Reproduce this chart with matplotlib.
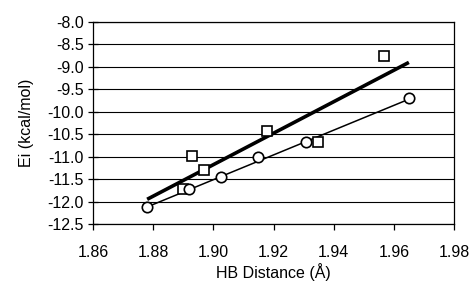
import matplotlib.pyplot as plt
import numpy as np

plt.rcParams['font.family'] = ['Liberation Sans', 'DejaVu Sans']

# squares series
sq_x = [1.8900, 1.8929, 1.8969, 1.9179, 1.9348, 1.9568]
sq_y = [-11.71, -10.99, -11.30, -10.43, -10.68, -8.75]
# circles series
ci_x = [1.8780, 1.8919, 1.9025, 1.9150, 1.9309, 1.9651]
ci_y = [-12.13, -11.73, -11.45, -11.00, -10.67, -9.70]
# trend lines
fit_x = [1.878, 1.965]
sq_fit = [-11.95, -8.90]
ci_fit = [-12.12, -9.72]

xticks = [1.86, 1.88, 1.90, 1.92, 1.94, 1.96, 1.98]
yticks = np.arange(-12.5, -7.99, 0.5)

fig = plt.figure(figsize=(4.72, 2.84), dpi=100)
ax = fig.add_axes([93/472, 1 - 224/284, 361/472, 202/284])

ax.plot(fit_x, sq_fit, color='black', lw=2.6, solid_capstyle='butt', zorder=3)
ax.plot(fit_x, ci_fit, color='black', lw=1.1, zorder=3)
ax.plot(sq_x, sq_y, ls='none', marker='s', ms=7.5, mfc='white', mec='black', mew=1.2, zorder=4)
ax.plot(ci_x, ci_y, ls='none', marker='o', ms=7.5, mfc='white', mec='black', mew=1.2, zorder=4)

ax.set_xlim(1.86, 1.98)
ax.set_ylim(-12.5, -8.0)
ax.set_xticks(xticks)
ax.set_xticklabels([f'{v:.2f}' for v in xticks])
ax.set_yticks(yticks)
ax.set_yticklabels([f'{v:.1f}' for v in yticks])
ax.yaxis.grid(True, color='black', lw=0.8)
ax.set_axisbelow(True)

for s in ax.spines.values():
    s.set_linewidth(0.9)
ax.tick_params(axis='y', direction='inout', length=7, width=0.9, labelsize=11.5, pad=3)
ax.tick_params(axis='x', direction='out', length=4, width=0.9, labelsize=11.5, pad=11)

ax.set_xlabel('HB Distance (Å)', fontsize=11.5, labelpad=2)
ax.set_ylabel('Ei (kcal/mol)', fontsize=11.5, labelpad=10)

fig.savefig('out.png', dpi=100)
